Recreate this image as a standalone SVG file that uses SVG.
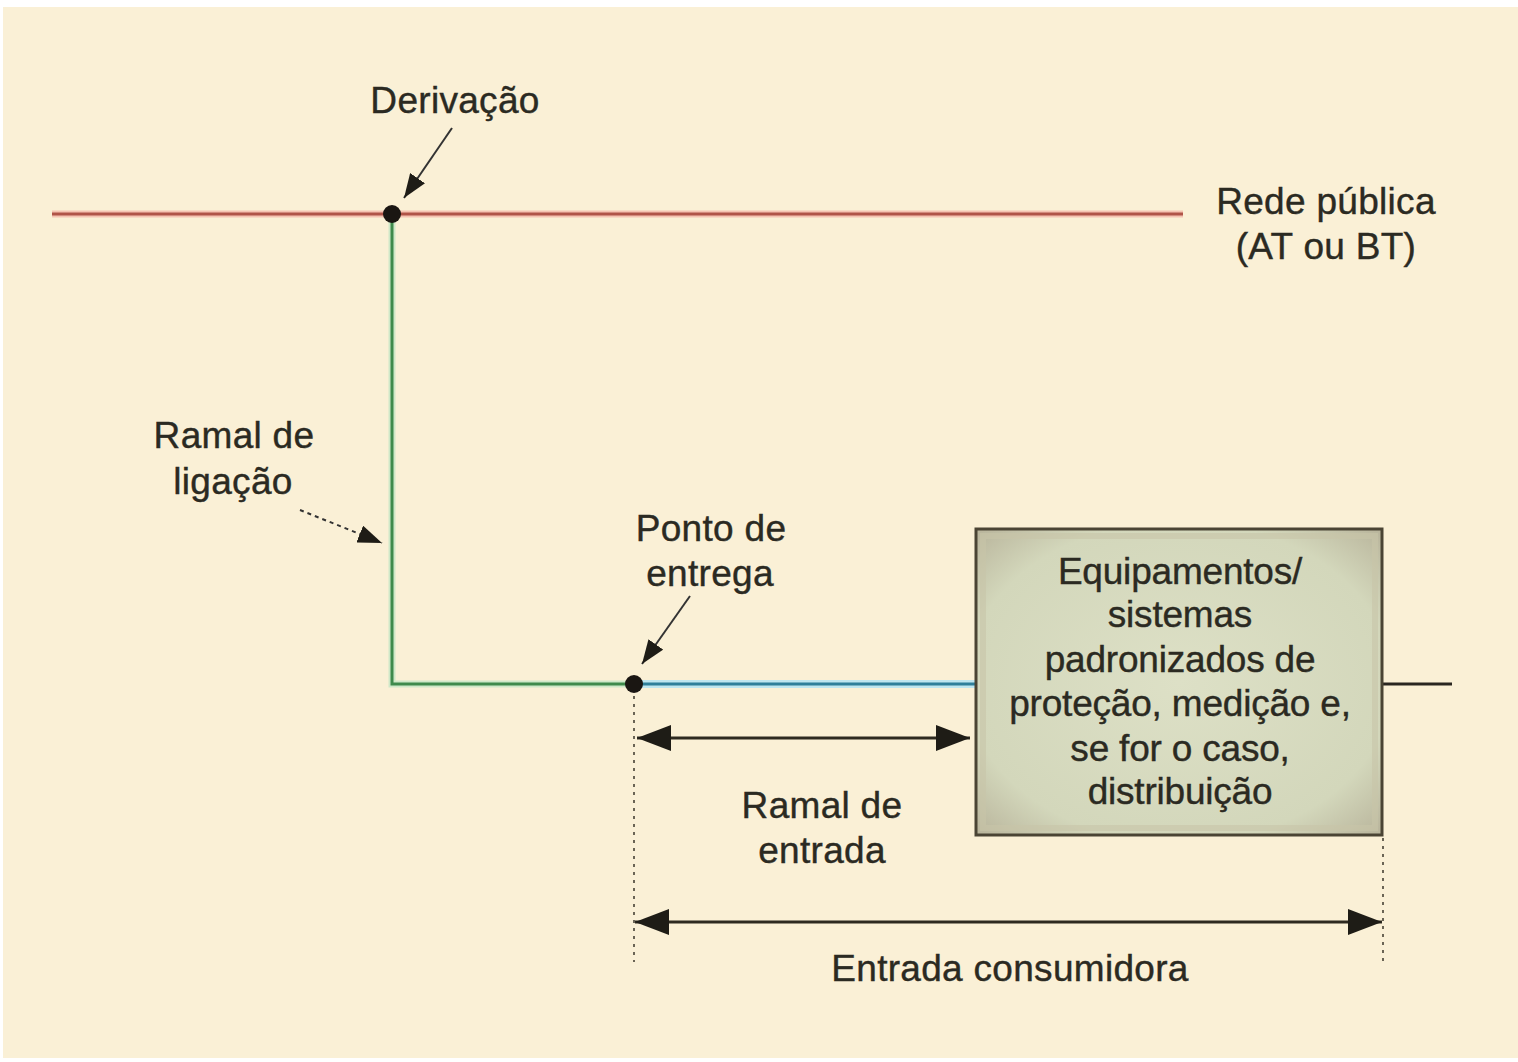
<svg xmlns="http://www.w3.org/2000/svg" width="1518" height="1062" viewBox="0 0 1518 1062">
<defs>
<style>
.t{font-family:"Liberation Sans",Arial,sans-serif;font-size:37px;letter-spacing:0.3px;fill:#2b2a22;stroke:#2b2a22;stroke-width:0.4;text-anchor:middle}
.b{letter-spacing:-0.2px}
.ln{fill:none;stroke-linecap:butt}
.dim{stroke:#2e2a20;stroke-width:3;fill:none}
.dot{stroke:#6a6455;stroke-width:2;stroke-dasharray:3 5;fill:none}
.lead{stroke:#333;stroke-width:2;fill:none}
</style>
<marker id="ahb" viewBox="0 0 10 10" refX="10" refY="5" markerWidth="34" markerHeight="26" markerUnits="userSpaceOnUse" orient="auto-start-reverse" preserveAspectRatio="none">
<path d="M0,0 L10,5 L0,10 Z" fill="#1e1c16"/>
</marker>
<marker id="ahl" viewBox="0 0 10 10" refX="10" refY="5" markerWidth="24" markerHeight="18" markerUnits="userSpaceOnUse" orient="auto" preserveAspectRatio="none">
<path d="M0,0 L10,5 L0,10 Z" fill="#1e1c16"/>
</marker>
<radialGradient id="bx" cx="0.5" cy="0.5" r="0.7">
<stop offset="0" stop-color="#dde0c6"/>
<stop offset="0.75" stop-color="#d3d7bb"/>
<stop offset="1" stop-color="#b9b59c"/>
</radialGradient>
</defs>
<rect x="3" y="7" width="1515" height="1051" fill="#faf0d6"/>
<g id="connectors">
<line class="ln" x1="52" y1="214" x2="1183" y2="214" stroke="#f5c3b2" stroke-width="7"/>
<line class="ln" x1="52" y1="214" x2="1183" y2="214" stroke="#b05448" stroke-width="3"/>
<polyline class="ln" points="392,214 392,684 634,684" stroke="#cfe8c8" stroke-width="7"/>
<polyline class="ln" points="392,214 392,684 634,684" stroke="#3f8a4c" stroke-width="3"/>
<line class="ln" x1="634" y1="684" x2="975" y2="684" stroke="#bfe6ef" stroke-width="8"/>
<line class="ln" x1="634" y1="684" x2="975" y2="684" stroke="#2f7f9a" stroke-width="3"/>
<line class="ln" x1="1383" y1="684" x2="1452" y2="684" stroke="#2a2620" stroke-width="3"/>
<line class="dot" x1="634" y1="696" x2="634" y2="962"/>
<line class="dot" x1="1383" y1="838" x2="1383" y2="966"/>
<line class="dim" x1="637" y1="738" x2="970" y2="738" marker-start="url(#ahb)" marker-end="url(#ahb)"/>
<line class="dim" x1="635" y1="922" x2="1382" y2="922" marker-start="url(#ahb)" marker-end="url(#ahb)"/>
<line class="lead" x1="452" y1="128" x2="404" y2="198" marker-end="url(#ahl)"/>
<line class="lead" x1="690" y1="596" x2="642" y2="664" marker-end="url(#ahl)"/>
<line class="lead" x1="300" y1="510" x2="382" y2="543" stroke-dasharray="4 4" marker-end="url(#ahl)"/>
<circle cx="392" cy="214" r="9" fill="#1a1612"/>
<circle cx="634" cy="684" r="9" fill="#1a1612"/>
</g>
<g id="equipamentos">
<rect x="976" y="529" width="406" height="306" fill="url(#bx)" stroke="#4a4434" stroke-width="3"/>
<rect x="983" y="536" width="392" height="292" fill="none" stroke="#c8c4a8" stroke-width="6" opacity="0.6"/>
<text class="t b" x="1180" y="584">Equipamentos/</text>
<text class="t b" x="1180" y="627">sistemas</text>
<text class="t b" x="1180" y="672">padronizados de</text>
<text class="t b" x="1180" y="716">proteção, medição e,</text>
<text class="t b" x="1180" y="761">se for o caso,</text>
<text class="t b" x="1180" y="804">distribuição</text>
</g>
<g id="derivacao"><text class="t" x="455" y="113">Derivação</text></g>
<g id="rede-publica"><text class="t" x="1326" y="214">Rede pública</text><text class="t" x="1326" y="259">(AT ou BT)</text></g>
<g id="ramal-ligacao"><text class="t" x="234" y="448">Ramal de</text><text class="t" x="233" y="494">ligação</text></g>
<g id="ponto-entrega"><text class="t" x="711" y="541">Ponto de</text><text class="t" x="710" y="586">entrega</text></g>
<g id="ramal-entrada"><text class="t" x="822" y="818">Ramal de</text><text class="t" x="822" y="863">entrada</text></g>
<g id="entrada-consumidora"><text class="t" x="1010" y="981">Entrada consumidora</text></g>
</svg>
